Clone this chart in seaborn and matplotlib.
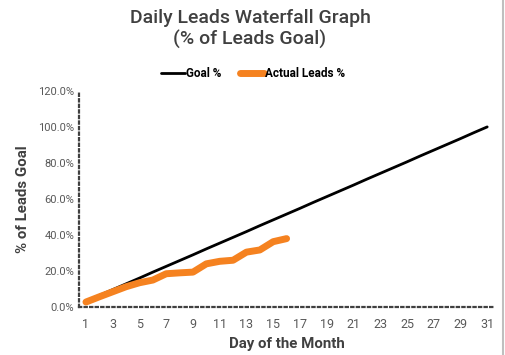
import pandas as pd
import seaborn as sns
import matplotlib.pyplot as plt
from matplotlib.ticker import FuncFormatter

sns.set_theme(style='white')
plt.rcParams['font.family'] = ['Roboto', 'DejaVu Sans']

days = list(range(1, 32))
goal_pct = [3.2, 6.5, 9.7, 12.9, 16.1, 19.4, 22.6, 25.8, 29.0, 32.3, 35.5, 38.7, 41.9, 45.2, 48.4, 51.6,
            54.8, 58.1, 61.3, 64.5, 67.7, 71.0, 74.2, 77.4, 80.6, 83.9, 87.1, 90.3, 93.5, 96.8, 100.0]
actual_days = list(range(1, 17))
actual_pct = [2.8, 5.7, 8.5, 11.3, 13.5, 15.0, 18.5, 19.0, 19.4, 24.0, 25.4, 26.0, 30.5, 31.7, 36.3, 38.0]
y_ticks = [0, 20, 40, 60, 80, 100, 120]
x_ticks = list(range(1, 32, 2))

goal = pd.DataFrame({'day': days, 'pct': goal_pct})
actual = pd.DataFrame({'day': actual_days, 'pct': actual_pct})

fig = plt.figure(figsize=(5.05, 3.55), dpi=100)
ax = fig.add_axes([0.157, 0.135, 0.821, 0.609])

sns.lineplot(data=goal, x='day', y='pct', color='black', linewidth=2, label='Goal %', ax=ax)
sns.lineplot(data=actual, x='day', y='pct', color='#F58220', linewidth=5, label='Actual Leads %',
             solid_capstyle='round', ax=ax)

ax.set_xlim(0.5, 31.5)
ax.set_ylim(0, 120)
ax.set_xticks(x_ticks)
ax.set_yticks(y_ticks)
ax.yaxis.set_major_formatter(FuncFormatter(lambda v, p: f'{v:.1f}%'))
ax.tick_params(axis='both', length=0, colors='#595959', labelsize=8)
ax.tick_params(axis='x', pad=8, labelsize=9)

for s in ['top', 'right']:
    ax.spines[s].set_visible(False)
for s in ['left', 'bottom']:
    ax.spines[s].set_linestyle((0, (1, 1.5)))
    ax.spines[s].set_linewidth(1.6)
    ax.spines[s].set_color('#404040')

ax.set_xlabel('Day of the Month', fontsize=10.8, fontweight='semibold', color='#404040', labelpad=4)
ax.set_ylabel('% of Leads Goal', fontsize=10.8, fontweight='semibold', color='#404040', labelpad=6)

fig.suptitle('Daily Leads Waterfall Graph\n(% of Leads Goal)', x=0.495, y=0.975, fontsize=14,
             fontweight='medium', color='#404040', linespacing=1.2)

leg = ax.legend(loc='lower center', bbox_to_anchor=(0.42, 1.0), ncol=2, frameon=False,
                handlelength=2.0, handletextpad=0.1, columnspacing=1.6,
                prop={'size': 8.5, 'weight': 'bold'})
for t in leg.get_texts():
    t.set_color('black')

fig.add_artist(plt.Line2D([0.996, 0.996], [0, 1], color='#BFBFBF', linewidth=1.5))

fig.savefig('out.png', dpi=100)
